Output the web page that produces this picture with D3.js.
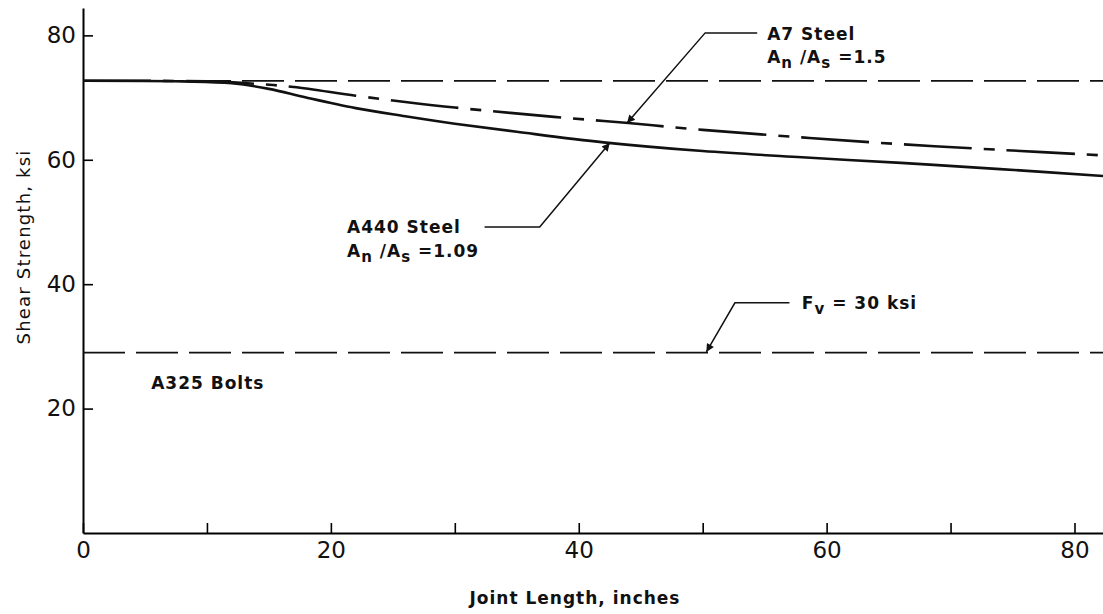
<!DOCTYPE html>
<html>
<head>
<meta charset="utf-8">
<script src="https://cdn.jsdelivr.net/npm/d3@7"></script>
<style>
  body { margin: 0; background: #fff; }
  svg text { font-family: "DejaVu Sans", sans-serif; fill: #111; }
  .axis text { font-size: 23px; }
  .note { font-size: 17px; font-weight: bold; letter-spacing: 1px; }
  .title { font-size: 18px; letter-spacing: 1.2px; }
</style>
</head>
<body>
<div id="chart"></div>
<script>
// valeurs (longueur du joint en pouces, résistance en ksi)
const a440X = [0, 8, 12, 15, 18, 22, 26, 30, 35, 42, 50, 58, 66, 74, 82.3];
const a440Y = [72.7, 72.6, 72.3, 71.4, 70.0, 68.3, 67.0, 65.8, 64.5, 62.8, 61.4, 60.4, 59.5, 58.5, 57.4];

const a7X = [0, 10, 14, 17, 22, 26, 30, 38, 44, 50, 58, 66, 74, 82.3];
const a7Y = [72.7, 72.6, 72.2, 71.7, 70.3, 69.3, 68.4, 66.9, 65.9, 64.8, 63.6, 62.5, 61.6, 60.7];

// niveaux horizontaux (tirets)
const refLevels = [72.7, 29.0];

const xTicks = [0, 10, 20, 30, 40, 50, 60, 70, 80];
const xLabels = [0, 20, 40, 60, 80];
const yTicks = [20, 40, 60, 80];

const width = 1103, height = 614;

const x = d3.scaleLinear().domain([0, 82.3]).range([83, 1103]);
const y = d3.scaleLinear().domain([0, 84.4]).range([533, 8]);

const svg = d3.select("#chart")
  .append("svg")
  .attr("width", width)
  .attr("height", height);

// flèche pleine
svg.append("defs").append("marker")
  .attr("id", "arrow")
  .attr("viewBox", "0 0 10 10")
  .attr("refX", 10).attr("refY", 5)
  .attr("markerWidth", 16).attr("markerHeight", 8)
  .attr("markerUnits", "userSpaceOnUse")
  .attr("orient", "auto")
  .append("path")
  .attr("d", "M0,0 L10,5 L0,10 Z")
  .attr("fill", "#111");

// axes
svg.append("g")
  .attr("class", "axis")
  .attr("transform", "translate(0," + y(0) + ")")
  .call(d3.axisBottom(x)
    .tickValues(xTicks)
    .tickSizeInner(-10).tickSizeOuter(0).tickPadding(9)
    .tickFormat(d => xLabels.includes(d) ? d : ""))
  .call(g => g.select(".domain").attr("stroke-width", 2))
  .call(g => g.selectAll(".tick line").attr("stroke-width", 1.6));

svg.append("g")
  .attr("class", "axis")
  .attr("transform", "translate(" + x(0) + ",0)")
  .call(d3.axisLeft(y)
    .tickValues(yTicks)
    .tickSizeInner(-10).tickSizeOuter(0).tickPadding(7))
  .call(g => g.select(".domain").attr("stroke-width", 2))
  .call(g => g.selectAll(".tick line").attr("stroke-width", 1.6));

// titres des axes
svg.append("text")
  .attr("x", 575).attr("y", 604)
  .attr("text-anchor", "middle")
  .attr("class", "note")
  .text("Joint Length, inches");

svg.append("text")
  .attr("transform", "translate(30,247) rotate(-90)")
  .attr("text-anchor", "middle")
  .attr("class", "title")
  .text("Shear Strength, ksi");

// lignes horizontales en tirets
svg.selectAll(".ref")
  .data(refLevels)
  .enter()
  .append("line")
  .attr("class", "ref")
  .attr("x1", x(0)).attr("x2", x(82.3))
  .attr("y1", d => y(d)).attr("y2", d => y(d))
  .attr("stroke", "#111")
  .attr("stroke-width", 1.7)
  .attr("stroke-dasharray", "42 11");

const line = d3.line()
  .x(d => x(d[0]))
  .y(d => y(d[1]))
  .curve(d3.curveCatmullRom.alpha(0.5));

// A7 (trait-point)
svg.append("path")
  .attr("d", line(d3.zip(a7X, a7Y)))
  .attr("fill", "none")
  .attr("stroke", "#111")
  .attr("stroke-width", 2.6)
  .attr("stroke-dasharray", "68 12 11 12");

// A440 (continu)
svg.append("path")
  .attr("d", line(d3.zip(a440X, a440Y)))
  .attr("fill", "none")
  .attr("stroke", "#111")
  .attr("stroke-width", 2.6);

// annotations : [fin du trait horizontal, coude, pointe] en coordonnées de données
const notes = [
  { pts: [[54.4, 80.4], [50.2, 80.4], [43.9, 65.9]] },
  { pts: [[32.4, 49.2], [36.85, 49.2], [42.5, 62.7]] },
  { pts: [[57.0, 37.0], [52.6, 37.0], [50.3, 29.1]] }
];

svg.selectAll(".leader")
  .data(notes)
  .enter()
  .append("path")
  .attr("class", "leader")
  .attr("d", d => d3.line()(d.pts.map(p => [x(p[0]), y(p[1])])))
  .attr("fill", "none")
  .attr("stroke", "#111")
  .attr("stroke-width", 1.5)
  .attr("marker-end", "url(#arrow)");

// textes avec indices
function label(xv, yv, parts) {
  const t = svg.append("text")
    .attr("class", "note")
    .attr("x", x(xv)).attr("y", y(yv));
  parts.forEach(p => {
    const s = t.append("tspan").text(p[0]);
    if (p[1]) s.attr("baseline-shift", "-30%").style("font-size", "15px");
  });
  return t;
}

label(55.2, 79.3, [["A7  Steel"]]);
label(55.2, 75.6, [["A"], ["n", true], [" /A"], ["s", true], [" =1.5"]]);

label(21.3, 48.2, [["A440  Steel"]]);
label(21.3, 44.4, [["A"], ["n", true], [" /A"], ["s", true], [" =1.09"]]);

label(58.0, 36.0, [["F"], ["v", true], [" = 30  ksi"]]);

label(5.5, 23.2, [["A325  Bolts"]]);
</script>
</body>
</html>
